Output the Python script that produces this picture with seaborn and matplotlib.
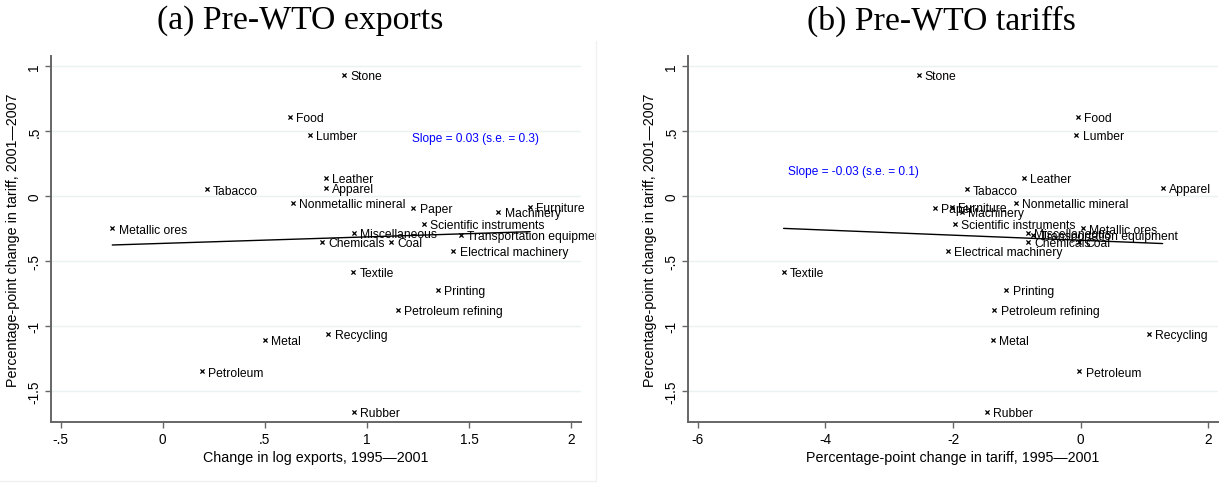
import matplotlib
matplotlib.use("Agg")
import matplotlib.pyplot as plt
from matplotlib.patches import Rectangle
from matplotlib.lines import Line2D
import numpy as np
import pandas as pd
import seaborn as sns

# Industries and their changes
industries = [
    "Stone", "Food", "Lumber", "Leather", "Apparel", "Tabacco",
    "Nonmetallic mineral", "Metallic ores", "Paper", "Machinery", "Furniture",
    "Scientific instruments", "Miscellaneous", "Transportation equipment",
    "Chemicals", "Coal", "Electrical machinery", "Textile", "Printing",
    "Petroleum refining", "Recycling", "Metal", "Petroleum", "Rubber",
]
# Percentage-point change in tariff, 2001-2007
tariff_change_01_07 = [
    0.93, 0.61, 0.47, 0.136, 0.063, 0.051,
    -0.056, -0.249, -0.095, -0.12, -0.087,
    -0.213, -0.282, -0.30,
    -0.356, -0.356, -0.42, -0.584, -0.723,
    -0.877, -1.064, -1.108, -1.349, -1.664,
]
# Change in log exports, 1995-2001
log_export_change_95_01 = [
    0.889, 0.623, 0.721, 0.799, 0.799, 0.215,
    0.639, -0.247, 1.227, 1.643, 1.798,
    1.279, 0.936, 1.459,
    0.780, 1.116, 1.423, 0.933, 1.346,
    1.153, 0.811, 0.500, 0.192, 0.936,
]
# Percentage-point change in tariff, 1995-2001
tariff_change_95_01 = [
    -2.539, -0.047, -0.067, -0.893, 1.285, -1.781,
    -1.013, 0.030, -2.288, -1.860, -2.016,
    -1.975, -0.824, -0.740,
    -0.830, -0.020, -2.085, -4.655, -1.165,
    -1.353, 1.072, -1.373, -0.020, -1.467,
]

slope_texts = ["Slope = 0.03 (s.e. = 0.3)", "Slope = -0.03 (s.e. = 0.1)"]
slope_text_pos = [(1.22, 0.444), (-4.58, 0.19)]
titles = ["(a) Pre-WTO exports", "(b) Pre-WTO tariffs"]
xlabels = ["Change in log exports, 1995\u20142001",
           "Percentage-point change in tariff, 1995\u20142001"]
ylabel = "Percentage-point change in tariff, 2001\u20142007"
xticks_list = [[-0.5, 0, 0.5, 1, 1.5, 2], [-6, -4, -2, 0, 2]]
xtick_labels_list = [["-.5", "0", ".5", "1", "1.5", "2"],
                     ["-6", "-4", "-2", "0", "2"]]
yticks = [1, 0.5, 0, -0.5, -1, -1.5]
ytick_labels = ["1", ".5", "0", "-.5", "-1", "-1.5"]
xlims = [(-0.547, 2.048), (-6.153, 2.153)]
ylim = (-1.738, 1.077)

df = pd.DataFrame({
    "industry": industries,
    "y": tariff_change_01_07,
    "exp": log_export_change_95_01,
    "tar": tariff_change_95_01,
})

sns.set_theme(style="white")
plt.rcParams["font.family"] = ["Liberation Sans", "DejaVu Sans"]

W, H = 1229, 485
fig = plt.figure(figsize=(W / 100, H / 100), dpi=100)
axes = [
    fig.add_axes([51 / W, 1 - 423 / H, 530 / W, 366 / H]),
    fig.add_axes([688 / W, 1 - 423 / H, 530 / W, 366 / H]),
]

grid_color = "#eaf2f3"
spine_color = "#666666"
title_centers = [300 / W, 941 / W]
clip_edges = [(0, 596 / W), (612 / W, 1.0)]

for i, (ax, xcol) in enumerate(zip(axes, ["exp", "tar"])):
    ax.set_xlim(*xlims[i])
    ax.set_ylim(*ylim)
    for yt in yticks:
        ax.axhline(yt, color=grid_color, lw=1.0, zorder=0)

    sns.regplot(data=df, x=xcol, y="y", ax=ax, scatter=False, ci=None,
                truncate=True, line_kws=dict(color="black", lw=1.0))
    sns.scatterplot(data=df, x=xcol, y="y", ax=ax, marker="x", s=9,
                    color="black", linewidth=0.9, zorder=3)

    clip_rect = Rectangle((clip_edges[i][0], 0), clip_edges[i][1] - clip_edges[i][0], 1,
                          transform=fig.transFigure, visible=False)
    fig.add_artist(clip_rect)
    for name, xv, yv in zip(df["industry"], df[xcol], df["y"]):
        t = ax.annotate(name, (xv, yv), xytext=(4.5, -0.8), textcoords="offset points",
                        va="center", ha="left", fontsize=8.7, color="black",
                        annotation_clip=False)
        t.set_clip_on(True)
        t.set_clip_path(clip_rect)

    ax.text(*slope_text_pos[i], slope_texts[i], color="#0000ff", fontsize=8.6,
            ha="left", va="center")

    ax.set_xticks(xticks_list[i])
    ax.set_xticklabels(xtick_labels_list[i])
    ax.set_yticks(yticks)
    ax.set_yticklabels(ytick_labels, rotation=90, va="center")
    ax.tick_params(axis="both", direction="out", length=4, width=1,
                   color=spine_color, labelsize=9.8, labelcolor="black",
                   bottom=True, left=True, pad=3)
    ax.set_xlabel(xlabels[i], fontsize=10.3, labelpad=3, color="black")
    ax.set_ylabel(ylabel, fontsize=10.3, labelpad=5, color="black")
    for side in ["top", "right"]:
        ax.spines[side].set_visible(False)
    for side in ["left", "bottom"]:
        ax.spines[side].set_color(spine_color)
        ax.spines[side].set_linewidth(1.4)

    fig.text(title_centers[i], 1 - 21 / H, titles[i], ha="center", va="center",
             fontsize=24.3, family="Liberation Serif", color="black")

# faint graph-region border of the first panel
fig.add_artist(Line2D([596 / W, 596 / W], [1 - 482 / H, 1 - 42 / H],
                      transform=fig.transFigure, color="#f0f0f0", lw=1))
fig.add_artist(Line2D([0, 596 / W], [1 - 482 / H, 1 - 482 / H],
                      transform=fig.transFigure, color="#f0f0f0", lw=1))

fig.savefig("out.png", dpi=100, facecolor="white")
